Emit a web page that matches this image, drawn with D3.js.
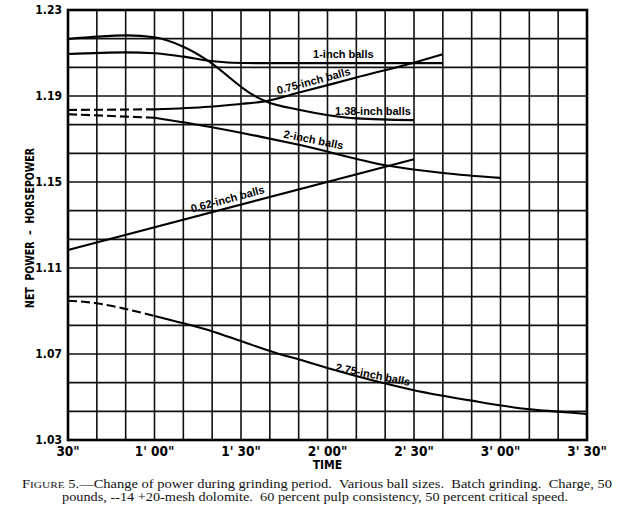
<!DOCTYPE html>
<html><head><meta charset="utf-8">
<script src="https://cdn.jsdelivr.net/npm/d3@7/dist/d3.min.js"></script>
<style>
body{margin:0;background:#fff;}
svg{display:block;}
text{white-space:pre;}
</style></head><body>
<svg id="chart" width="625" height="507"></svg>
<script>
// ---- data (time in seconds, net power in horsepower) ----
const xTicks = [30, 60, 90, 120, 150, 180, 210];
const xTickLabels = ['30"', "1' 00\"", "1' 30\"", "2' 00\"", "2' 30\"", "3' 00\"", "3' 30\""];
const yTicks = [1.03, 1.07, 1.11, 1.15, 1.19, 1.23];
const yTickLabels = ["1.03", "1.07", "1.11", "1.15", "1.19", "1.23"];

const balls138 = [[30,1.2165],[40,1.2176],[50.5,1.2182],[60,1.2173],[70,1.2129],[79,1.2060],[90,1.1943],[93.1,1.1913],[98.3,1.1877],[110.5,1.1835],[119.8,1.1812],[130.2,1.1796],[150,1.1788]];
const balls100 = [[30,1.2095],[50,1.2103],[60,1.2099],[70,1.2083],[79,1.2064],[87,1.2055],[97,1.2053],[120,1.2053],[160,1.2053]];
const balls075Dashed = [[30,1.1835],[60,1.1838]];
const balls075 = [[60,1.1838],[79,1.1850],[90,1.1863],[97.6,1.1874],[110.5,1.1917],[130,1.1986],[149.6,1.2054],[160,1.2094]];
const balls200Dashed = [[30,1.1815],[60,1.1799]];
const balls200 = [[60,1.1799],[79,1.1757],[96.6,1.1711],[110.5,1.1672],[140.6,1.1577],[160,1.1542],[180,1.1519]];
const balls062 = [[30,1.1184],[150,1.1606]];
const balls275Dashed = [[30,1.0948],[40,1.0936],[50.5,1.0908],[60,1.0877]];
const balls275 = [[60,1.0877],[70,1.0843],[80.4,1.0804],[90.4,1.0758],[102.4,1.0704],[110.5,1.0673],[120.9,1.0631],[149.6,1.0533],[170,1.0483],[190,1.0443],[200,1.0432],[210,1.0421]];

const labelTexts = ["1-inch balls","0.75-inch balls","1.38-inch balls","2-inch balls","0.62-inch balls","2.75-inch balls"];
const labelTimes = [115, 102.8, 122.6, 104.6, 73, 122.6];
const labelPowers = [1.2077, 1.1908, 1.1812, 1.1707, 1.1358, 1.0622];
const labelAngles = [0, -15, 0, 11.5, -15, 11.5];

const yTitle = "NET  POWER  –  HORSEPOWER";
const xTitle = "TIME";
const captionLines = [
  ["F", "IGURE", " 5.—Change of power during grinding period.  Various ball sizes.  Batch grinding.  Charge, 50"],
  ["", "", "pounds, --14 +20-mesh dolomite.  60 percent pulp consistency, 50 percent critical speed."]
];

// ---- layout ----
const svg = d3.select("#chart");
const x = d3.scaleLinear().domain([30, 210]).range([68, 587]);
const y = d3.scaleLinear().domain([1.03, 1.23]).range([440, 10]);

const xGrid = d3.range(30, 211, 10);
const yGrid = d3.range(16).map(i => 1.03 + i * 0.2 / 15);

const g = svg.append("g");
g.selectAll("line.vg").data(xGrid).join("line")
  .attr("x1", d => x(d)).attr("x2", d => x(d))
  .attr("y1", y(1.03)).attr("y2", y(1.23))
  .attr("stroke", "#111").attr("stroke-width", 1.6);
g.selectAll("line.hg").data(yGrid).join("line")
  .attr("y1", d => y(d)).attr("y2", d => y(d))
  .attr("x1", x(30)).attr("x2", x(210))
  .attr("stroke", "#111").attr("stroke-width", 1.6);
g.append("rect")
  .attr("x", x(30)).attr("y", y(1.23))
  .attr("width", x(210) - x(30)).attr("height", y(1.03) - y(1.23))
  .attr("fill", "none").attr("stroke", "#000").attr("stroke-width", 2.6);

// curves
const line = d3.line().x(d => x(d[0])).y(d => y(d[1])).curve(d3.curveMonotoneX);
const solid = [balls138, balls100, balls075, balls200, balls062, balls275];
const dashed = [balls075Dashed, balls200Dashed, balls275Dashed];
g.selectAll("path.solid").data(solid).join("path")
  .attr("d", line).attr("fill", "none").attr("stroke", "#000").attr("stroke-width", 2.1);
g.selectAll("path.dash").data(dashed).join("path")
  .attr("d", line).attr("fill", "none").attr("stroke", "#000").attr("stroke-width", 2.1)
  .attr("stroke-dasharray", "9,4");

// curve labels
const sans = "'Liberation Sans', Arial, sans-serif";
const narrow = "'Liberation Sans Narrow', 'Arial Narrow', 'DejaVu Sans Condensed', sans-serif";
labelTexts.forEach((t, i) => {
  g.append("text")
    .attr("transform", `translate(${x(labelTimes[i])},${y(labelPowers[i])}) rotate(${labelAngles[i]})`)
    .attr("font-family", sans).attr("font-weight", "bold").attr("font-size", 11)
    .attr("fill", "#000").text(t);
});

// y tick labels
g.selectAll("text.yt").data(yTicks).join("text")
  .attr("x", 62).attr("y", d => y(d)).attr("dy", "0.35em")
  .attr("text-anchor", "end")
  .attr("font-family", narrow).attr("font-weight", "bold").attr("font-size", 12)
  .text((d, i) => yTickLabels[i]);

// x tick labels
g.selectAll("text.xt").data(xTicks).join("text")
  .attr("x", d => x(d)).attr("y", 456)
  .attr("text-anchor", "middle")
  .attr("font-family", narrow).attr("font-weight", "bold").attr("font-size", 13.5)
  .text((d, i) => xTickLabels[i]);

// axis titles
g.append("text")
  .attr("transform", `translate(34,${(y(1.03) + y(1.23)) / 2 + 3}) rotate(-90)`)
  .attr("text-anchor", "middle")
  .attr("font-family", narrow).attr("font-weight", "bold").attr("font-size", 12)
  .attr("textLength", 160).attr("lengthAdjust", "spacingAndGlyphs")
  .text(yTitle);
g.append("text")
  .attr("x", (x(30) + x(210)) / 2).attr("y", 469)
  .attr("text-anchor", "middle")
  .attr("font-family", narrow).attr("font-weight", "bold").attr("font-size", 12)
  .text(xTitle);

// caption
const serif = "'Liberation Serif', 'Times New Roman', serif";
const capPos = [{x: 22, y: 488, w: 590}, {x: 62, y: 501, w: 506}];
captionLines.forEach((parts, i) => {
  const t = g.append("text")
    .attr("x", capPos[i].x).attr("y", capPos[i].y)
    .attr("font-family", serif).attr("font-size", 11.5).attr("fill", "#111")
    .attr("textLength", capPos[i].w).attr("lengthAdjust", "spacingAndGlyphs");
  if (parts[0]) t.append("tspan").text(parts[0]);
  if (parts[1]) t.append("tspan").attr("font-size", 9).text(parts[1]);
  t.append("tspan").text(parts[2]);
});
</script>
</body></html>
